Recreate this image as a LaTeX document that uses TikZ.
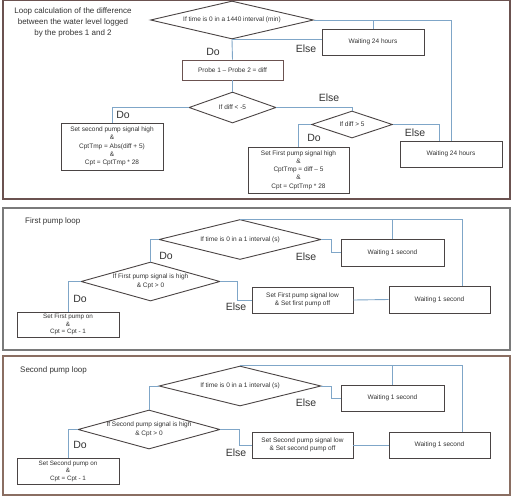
\documentclass[tikz,border=0pt]{standalone}
\usepackage{fontspec}
\setmainfont{Liberation Sans}
\usetikzlibrary{shapes.geometric}
\definecolor{connc}{HTML}{7FA6C8}
\definecolor{edgec}{HTML}{4A4444}
\definecolor{frameA}{HTML}{6B5250}
\definecolor{frameB}{HTML}{7A7A7A}
\definecolor{frameC}{HTML}{8A6E62}
\definecolor{txtc}{HTML}{333333}
\tikzset{
 conn/.style={draw=connc, line width=0.9pt},
 box/.style={draw=edgec, line width=0.9pt, fill=white, inner sep=0pt, align=center,
   font=\fontsize{6.5}{8.3}\selectfont, text=txtc},
 dia/.style={diamond, draw=edgec, line width=0.9pt, fill=white, inner sep=0pt},
 dtxt/.style={font=\fontsize{6.5}{8.5}\selectfont, text=txtc, align=center, inner sep=0pt},
 lab/.style={font=\fontsize{10.5}{12}\selectfont, text=txtc, inner sep=0pt},
 ttl/.style={font=\fontsize{8}{11}\selectfont, text=txtc, align=center, inner sep=0pt},
 frm/.style={line width=1.2pt},
}
\begin{document}
\begin{tikzpicture}[x=1pt,y=-1pt]
\useasboundingbox[fill=white] (0,0) rectangle (523,496);
% frames
\draw[frm, draw=frameA] (3,0.8) rectangle (510,199);
\draw[frm, draw=frameB] (3,208) rectangle (510,350);
\draw[frm, draw=frameC] (3,356) rectangle (510,495);

% ---------- Panel 1 ----------
\node[ttl] (t1) at (73,22) {Loop calculation of the difference\\between the water level logged\\by the probes 1 and 2};
\node[dia, minimum width=163pt, minimum height=38pt] (d1) at (232,20) {};
\node[dtxt] (d1t) at (d1.center) {If time is 0 in a 1440 interval (min)};
\node[box, minimum width=102pt, minimum height=26pt] (w1) at (373,42) {Waiting 24 hours};
\node[box, minimum width=101pt, minimum height=20pt, draw=frameA] (p) at (232.5,70) {Probe 1 -- Probe 2 = diff};
\node[dia, minimum width=87pt, minimum height=31pt] (d2) at (232.5,107.5) {};
\node[dtxt] (d2t) at (d2.center) {If diff < -5};
\node[box, minimum width=102pt, minimum height=47pt] (b1) at (112,146.5) {Set second pump signal high\\\&\\CptTmp = Abs(diff + 5)\\\&\\Cpt = CptTmp * 28};
\node[dia, minimum width=81pt, minimum height=27pt] (d3) at (352,124.5) {};
\node[dtxt] (d3t) at (d3.center) {If diff > 5};
\node[box, minimum width=101pt, minimum height=46pt] (b2) at (298.5,170) {Set First pump signal high\\\&\\CptTmp = diff -- 5\\\&\\Cpt = CptTmp * 28};
\node[box, minimum width=102pt, minimum height=26pt] (w2) at (451,154) {Waiting 24 hours};
\coordinate (w2in) at ([xshift=-12pt]w2.north);

\draw[conn] (d1.east) -- (d1.east -| w2.north) -- (w2.north);
\draw[conn] (w1.north) -- (w1.north |- d1.east);
\draw[conn] (d1.south) -- (p.north);
\draw[conn] (d1.south) -- (w1.west |- d1.south);
\draw[conn] (p.south) -- (d2.north);
\draw[conn] (d2.west) -| (b1.north);
\draw[conn] (d2.east) -| (d3.north);
\draw[conn] (d3.west) -| (b2.north);
\draw[conn] (d3.east) -| (w2in);

\node[lab] (l1) at (213,52) {Do};
\node[lab] (l2) at (306,49) {Else};
\node[lab] (l3) at (123,115) {Do};
\node[lab] (l4) at (329,98) {Else};
\node[lab] (l5) at (314,138) {Do};
\node[lab] (l6) at (415,133) {Else};

% ---------- Panel 2 ----------
\node[ttl, anchor=west] (t2) at (25,221) {First pump loop};
\node[dia, minimum width=162pt, minimum height=40pt] (dA) at (240,239.5) {};
\node[dtxt] (dAt) at (dA.center) {If time is 0 in a 1 interval (s)};
\node[box, minimum width=103pt, minimum height=27pt] (wA) at (392.5,252.5) {Waiting 1 second};
\node[dia, minimum width=139pt, minimum height=39pt] (dB) at (150.5,281.5) {};
\node[dtxt] (dBt) at (dB.center) {If First pump signal is high\\\& Cpt > 0};
\node[box, minimum width=102pt, minimum height=25pt, font=\fontsize{6.3}{7.6}\selectfont] (bOn) at (68,324.5) {Set First pump on\\\&\\Cpt = Cpt - 1};
\node[box, minimum width=101pt, minimum height=26pt] (bOff) at (302.5,300) {Set First pump signal low\\\& Set first pump off};
\node[box, minimum width=101pt, minimum height=27pt] (wB) at (439.5,299.5) {Waiting 1 second};
\coordinate (wBin) at ([xshift=22.5pt]wB.north);

\draw[conn] (dA.north) -- (dA.north -| wBin) -- (wBin);
\draw[conn] (wA.north) -- (wA.north |- dA.north);
\draw[conn] (dA.west) -| (dB.north);
\draw[conn] (dA.east) -- ++(10,0) |- (wA.west);
\draw[conn] (dB.west) -| (bOn.north);
\draw[conn] (dB.east) -- ++(17,0) |- (bOff.west);
\draw[conn] (bOff.east) -- (wB.west);

\node[lab] (l7) at (166,256) {Do};
\node[lab] (l8) at (306,257) {Else};
\node[lab] (l9) at (80,299) {Do};
\node[lab] (l10) at (236,307) {Else};

% ---------- Panel 3 ----------
\node[ttl, anchor=west] (t3) at (20,370) {Second pump loop};
\node[dia, minimum width=162pt, minimum height=40pt] (dC) at (240,386) {};
\node[dtxt] (dCt) at (dC.center) {If time is 0 in a 1 interval (s)};
\node[box, minimum width=103pt, minimum height=26pt] (wC) at (392.5,398) {Waiting 1 second};
\node[dia, minimum width=142pt, minimum height=39pt] (dD) at (149,429.5) {};
\node[dtxt] (dDt) at (dD.center) {If Second pump signal is high\\\& Cpt > 0};
\node[box, minimum width=102pt, minimum height=26pt, font=\fontsize{6.3}{7.6}\selectfont] (bOn3) at (68,471) {Set Second pump on\\\&\\Cpt = Cpt - 1};
\node[box, minimum width=101pt, minimum height=26pt] (bOff3) at (302.5,445) {Set Second pump signal low\\\& Set second pump off};
\node[box, minimum width=101pt, minimum height=26pt] (wD) at (439.5,445) {Waiting 1 second};
\coordinate (wDin) at ([xshift=22.5pt]wD.north);

\draw[conn] (dC.north) -- (dC.north -| wDin) -- (wDin);
\draw[conn] (wC.north) -- (wC.north |- dC.north);
\draw[conn] (dC.west) -| (dD.north);
\draw[conn] (dC.east) -- ++(10,0) |- (wC.west);
\draw[conn] (dD.west) -| (bOn3.north);
\draw[conn] (dD.east) -- ++(19,0) |- (bOff3.west);
\draw[conn] (bOff3.east) -- (wD.west);

\node[lab] (l11) at (306,403) {Else};
\node[lab] (l12) at (80,445) {Do};
\node[lab] (l13) at (236,453) {Else};
\end{tikzpicture}
\end{document}
